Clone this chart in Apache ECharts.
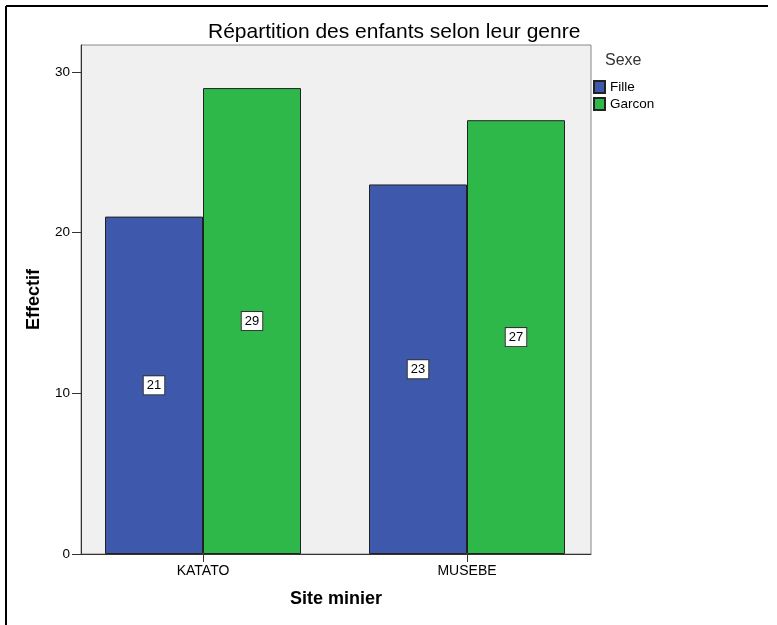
<!DOCTYPE html>
<html>
<head>
<meta charset="utf-8">
<script src="https://cdn.jsdelivr.net/npm/echarts@6/dist/echarts.min.js"></script>
<style>html,body{margin:0;padding:0;background:#fff;}#c{width:777px;height:625px;}</style>
</head>
<body>
<div id="c"></div>
<script>
const categories = ['KATATO', 'MUSEBE'];
const seriesNames = ['Fille', 'Garcon'];
const filleValues = [21, 23];
const garconValues = [29, 27];
const yMin = 0, yMax = 30, yInterval = 10;

const FONT = 'Liberation Sans, Arial, sans-serif';
const chart = echarts.init(document.getElementById('c'), null, {renderer: 'canvas'});

function labelStyle() {
  return {
    show: true, position: 'inside', color: '#000', fontSize: 13, fontFamily: FONT,
    backgroundColor: '#fff', borderColor: '#333', borderWidth: 1, padding: [3, 3, 2, 3]
  };
}

const option = {
  animation: false,
  backgroundColor: '#fff',
  title: {
    text: 'Répartition des enfants selon leur genre',
    left: 203, top: 17,
    textStyle: {fontFamily: FONT, fontSize: 21, fontWeight: 'normal', color: '#000'}
  },
  legend: {
    data: seriesNames, orient: 'vertical', left: 588, top: 75,
    itemWidth: 11, itemHeight: 12, itemGap: 3, icon: 'rect',
    textStyle: {fontFamily: FONT, fontSize: 13.5, color: '#000'}
  },
  graphic: [
    {type: 'line', shape: {x1: 6, y1: 6, x2: 6, y2: 625}, style: {stroke: '#000', lineWidth: 2}},
    {type: 'line', shape: {x1: 6, y1: 6, x2: 768, y2: 6}, style: {stroke: '#000', lineWidth: 2}},
    {type: 'text', left: 605, top: 53, style: {text: 'Sexe', fontFamily: FONT, fontSize: 16, fill: '#333'}}
  ],
  grid: [
    {left: 81, top: 45, width: 510, height: 509, show: true, backgroundColor: '#f0f0f0', borderColor: '#888', borderWidth: 1},
    {left: 81, top: 72, width: 510, height: 482},
    {left: 71, top: 72, width: 528, height: 482}
  ],
  xAxis: [
    {gridIndex: 0, type: 'value', min: 0, max: 1,
     axisLine: {show: true, lineStyle: {color: '#333', width: 1}}, axisTick: {show: false}, axisLabel: {show: false}, splitLine: {show: false},
     name: 'Site minier', nameLocation: 'middle', nameGap: 36,
     nameTextStyle: {fontFamily: FONT, fontSize: 18, fontWeight: 'bold', color: '#000'}},
    {gridIndex: 1, type: 'value', show: false},
    {gridIndex: 2, type: 'category', data: categories,
     axisLine: {show: false}, axisTick: {show: true, alignWithLabel: true, length: 8, lineStyle: {color: '#333'}},
     axisLabel: {fontFamily: FONT, fontSize: 14, color: '#000', margin: 10}}
  ],
  yAxis: [
    {gridIndex: 0, type: 'value', min: 0, max: 1,
     axisLine: {show: true, lineStyle: {color: '#333', width: 1}}, axisTick: {show: false}, axisLabel: {show: false}, splitLine: {show: false},
     name: 'Effectif', nameLocation: 'middle', nameGap: 38,
     nameTextStyle: {fontFamily: FONT, fontSize: 18, fontWeight: 'bold', color: '#000'}},
    {gridIndex: 1, type: 'value', min: yMin, max: yMax, interval: yInterval,
     axisLine: {show: false}, axisTick: {show: true, length: 9, lineStyle: {color: '#333'}},
     axisLabel: {fontFamily: FONT, fontSize: 13.5, color: '#000', margin: 11}, splitLine: {show: false}},
    {gridIndex: 2, type: 'value', min: yMin, max: yMax, show: false}
  ],
  series: [
    {name: seriesNames[0], type: 'bar', xAxisIndex: 2, yAxisIndex: 2, data: filleValues,
     barWidth: 98, barGap: '0%',
     itemStyle: {color: '#3e58ac', borderColor: '#222', borderWidth: 1},
     label: labelStyle()},
    {name: seriesNames[1], type: 'bar', xAxisIndex: 2, yAxisIndex: 2, data: garconValues,
     barWidth: 98, barGap: '0%',
     itemStyle: {color: '#2eb84a', borderColor: '#222', borderWidth: 1},
     label: labelStyle()}
  ]
};
chart.setOption(option);
</script>
</body>
</html>
